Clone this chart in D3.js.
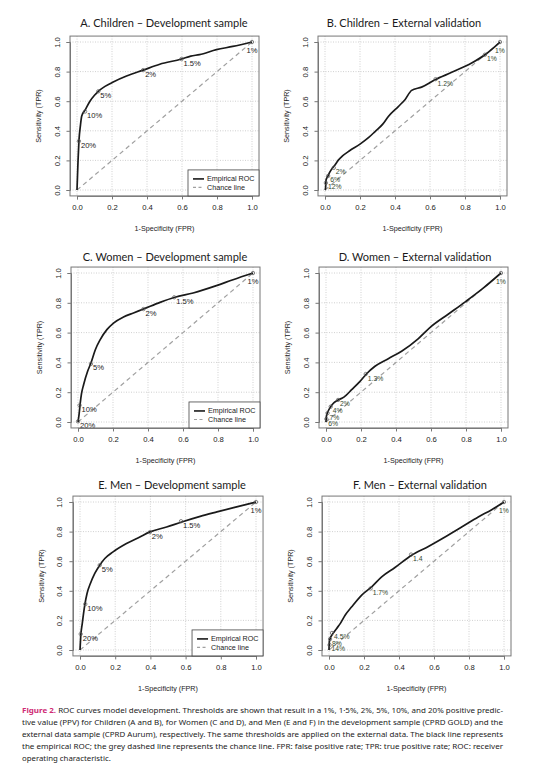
<!DOCTYPE html>
<html><head><meta charset="utf-8">
<script src="https://cdn.jsdelivr.net/npm/d3@7"></script>
<style>
html,body{margin:0;padding:0;background:#fff;}
svg{display:block;}
</style></head>
<body>
<svg id="chart" width="558" height="771"></svg>
<script>
// ---------------- DATA ----------------
const panelTitles = [
  "A. Children \u2013 Development sample",
  "B. Children \u2013 External validation",
  "C. Women \u2013 Development sample",
  "D. Women \u2013 External validation",
  "E. Men \u2013 Development sample",
  "F. Men \u2013 External validation"
];
const tickValues = [0, 0.2, 0.4, 0.6, 0.8, 1.0];
const tickLabels = ["0.0", "0.2", "0.4", "0.6", "0.8", "1.0"];
const xAxisTitle = "1-Specificity (FPR)";
const yAxisTitle = "Sensitivity (TPR)";
const legendLabels = ["Empirical ROC", "Chance line"];

// ROC curves [FPR, TPR]
const rocA = [[0,0],[0.003,0.1],[0.006,0.2],[0.011,0.33],[0.02,0.44],[0.027,0.5],[0.046,0.54],[0.074,0.6],[0.1,0.64],[0.122,0.667],[0.16,0.7],[0.207,0.73],[0.283,0.77],[0.378,0.81],[0.473,0.85],[0.597,0.885],[0.65,0.905],[0.70,0.915],[0.797,0.948],[0.89,0.97],[1,1]];
const rocB = [[0,0],[0.003,0.011],[0.006,0.068],[0.015,0.09],[0.029,0.124],[0.057,0.169],[0.075,0.2],[0.1,0.23],[0.14,0.265],[0.2,0.31],[0.25,0.355],[0.286,0.395],[0.33,0.445],[0.362,0.497],[0.419,0.564],[0.457,0.61],[0.495,0.673],[0.552,0.695],[0.629,0.745],[0.724,0.795],[0.838,0.858],[0.914,0.914],[1,1]];
const rocC = [[0,0],[0.006,0.049],[0.013,0.128],[0.02,0.19],[0.032,0.25],[0.055,0.34],[0.074,0.396],[0.099,0.485],[0.127,0.553],[0.165,0.62],[0.203,0.664],[0.26,0.705],[0.317,0.732],[0.374,0.758],[0.469,0.803],[0.554,0.837],[0.658,0.866],[0.791,0.915],[0.886,0.955],[1,1]];
const rocD = [[0,0],[0.002,0.036],[0.011,0.069],[0.027,0.103],[0.046,0.13],[0.069,0.148],[0.091,0.159],[0.116,0.181],[0.145,0.215],[0.193,0.271],[0.232,0.324],[0.28,0.374],[0.356,0.425],[0.432,0.475],[0.528,0.56],[0.6,0.64],[0.7,0.725],[0.8,0.81],[0.9,0.9],[1,1]];
const rocE = [[0,0],[0.004,0.09],[0.013,0.18],[0.027,0.303],[0.04,0.382],[0.059,0.449],[0.084,0.517],[0.112,0.573],[0.141,0.618],[0.188,0.663],[0.264,0.719],[0.34,0.764],[0.397,0.798],[0.492,0.831],[0.578,0.865],[0.683,0.903],[0.778,0.933],[0.873,0.962],[1,1]];
const rocF = [[0,0],[0.002,0.056],[0.007,0.079],[0.017,0.101],[0.029,0.122],[0.044,0.146],[0.065,0.18],[0.093,0.236],[0.13,0.292],[0.187,0.371],[0.244,0.427],[0.301,0.494],[0.377,0.557],[0.472,0.64],[0.568,0.70],[0.663,0.764],[0.758,0.831],[0.853,0.899],[0.93,0.948],[1,1]];

// Threshold points [FPR, TPR, label]
const thrA = [[1,1,"1%"],[0.597,0.885,"1.5%"],[0.378,0.81,"2%"],[0.122,0.667,"5%"],[0.046,0.53,"10%"],[0.011,0.33,"20%"]];
const thrB = [[1,1,"1%"],[0.914,0.914,"1%"],[0.632,0.749,"1.2%"],[0.05,0.15,"2%"],[0.018,0.095,"6%"],[0.005,0.048,"12%"]];
const thrC = [[1,1,"1%"],[0.55,0.837,"1.5%"],[0.374,0.758,"2%"],[0.074,0.39,"5%"],[0.009,0.112,"10%"],[0,0.004,"20%"]];
const thrD = [[1,1,"1%"],[0.227,0.322,"1.3%"],[0.069,0.148,"2%"],[0.027,0.103,"4%"],[0.009,0.06,"7%"],[0.002,0.02,"6%"]];
const thrE = [[1,1,"1%"],[0.574,0.87,"1.5%"],[0.397,0.796,"2%"],[0.112,0.573,"5%"],[0.03,0.31,"10%"],[0.004,0.108,"20%"]];
const thrF = [[1,1,"1%"],[0.469,0.645,"1.4"],[0.238,0.416,"1.7%"],[0.017,0.115,"4.5%"],[0.006,0.074,"8%"],[0.003,0.034,"14%"]];

const captionBold = "Figure 2.";
const captionLines = [
  " ROC curves model development. Thresholds are shown that result in a 1%, 1\u00b75%, 2%, 5%, 10%, and 20% positive predic-",
  "tive value (PPV) for Children (A and B), for Women (C and D), and Men (E and F) in the development sample (CPRD GOLD) and the",
  "external data sample (CPRD Aurum), respectively. The same thresholds are applied on the external data. The black line represents",
  "the empirical ROC; the grey dashed line represents the chance line. FPR: false positive rate; TPR: true positive rate; ROC: receiver",
  "operating characteristic."
];

// ---------------- LAYOUT ----------------
const layout = [
  {x0:77, x1:252, yb:190, yt:42, tx:164, ty:27, legend:true, ext:false},
  {x0:325, x1:500, yb:190, yt:42, tx:404, ty:27, legend:false, ext:true},
  {x0:78, x1:253, yb:422, yt:273, tx:165, ty:261, legend:true, ext:false},
  {x0:326, x1:501, yb:422, yt:273, tx:415, ty:261, legend:false, ext:true},
  {x0:80, x1:256, yb:650, yt:502, tx:172, ty:489, legend:true, ext:false},
  {x0:329, x1:504, yb:650, yt:502, tx:420, ty:489, legend:false, ext:true}
];
const rocs = [rocA, rocB, rocC, rocD, rocE, rocF];
const thrs = [thrA, thrB, thrC, thrD, thrE, thrF];

const svg = d3.select("#chart");
const axisFont = "'Liberation Sans', Arial, sans-serif";

layout.forEach((L, i) => {
  const padX = (L.x1 - L.x0) * 0.04, padY = (L.yb - L.yt) * 0.04;
  const x = d3.scaleLinear().domain([0, 1]).range([L.x0, L.x1]);
  const y = d3.scaleLinear().domain([0, 1]).range([L.yb, L.yt]);
  const bx0 = L.x0 - padX, bx1 = L.x1 + padX, by0 = L.yt - padY, by1 = L.yb + padY;
  const g = svg.append("g");

  // grid
  g.selectAll(".gx").data(tickValues).join("line")
    .attr("x1", d => x(d)).attr("x2", d => x(d)).attr("y1", by0).attr("y2", by1)
    .attr("stroke", "#c4c4c4").attr("stroke-width", 0.8).attr("stroke-dasharray", "1,1.5");
  g.selectAll(".gy").data(tickValues).join("line")
    .attr("y1", d => y(d)).attr("y2", d => y(d)).attr("x1", bx0).attr("x2", bx1)
    .attr("stroke", "#c4c4c4").attr("stroke-width", 0.8).attr("stroke-dasharray", "1,1.5");

  // chance line
  g.append("path")
    .attr("d", d3.line().x(d => x(d)).y(d => y(d))([0, 1]))
    .attr("stroke", "#a0a0a0").attr("stroke-width", 1.2).attr("stroke-dasharray", "4.5,3.5").attr("fill", "none");

  // ROC curve
  g.append("path")
    .attr("d", d3.line().x(d => x(d[0])).y(d => y(d[1])).curve(d3.curveMonotoneX)(rocs[i]))
    .attr("stroke", "#1a1a1a").attr("stroke-width", 1.7).attr("fill", "none").attr("stroke-linejoin", "round");

  // thresholds
  const labCol = L.ext ? "#34482e" : "#1a1a1a";
  thrs[i].forEach(t => {
    g.append("circle").attr("cx", x(t[0])).attr("cy", y(t[1])).attr("r", 1.7)
      .attr("fill", "none").attr("stroke", "#555").attr("stroke-width", 0.7);
    const atEnd = t[0] >= 0.999;
    g.append("text")
      .attr("x", atEnd ? x(t[0]) : x(t[0]) + 2)
      .attr("y", atEnd ? y(t[1]) + 10.5 : y(t[1]) + 6.5)
      .attr("text-anchor", atEnd ? "middle" : "start")
      .attr("font-family", axisFont).attr("font-size", L.ext ? 6.8 : 7.6).attr("fill", labCol)
      .text(t[2]);
  });

  // box
  g.append("rect").attr("x", bx0).attr("y", by0).attr("width", bx1 - bx0).attr("height", by1 - by0)
    .attr("fill", "none").attr("stroke", "#777").attr("stroke-width", 1);

  // x axis ticks + labels
  const xa = g.append("g").attr("transform", `translate(0,${by1})`)
    .call(d3.axisBottom(x).tickValues(tickValues).tickFormat((d, k) => tickLabels[k]).tickSize(3.5).tickPadding(5.5));
  xa.select(".domain").attr("stroke", "#777");
  xa.selectAll(".tick line").attr("stroke", "#777");
  xa.selectAll("text").attr("font-family", axisFont).attr("font-size", 7.7).attr("fill", "#222");

  // y axis
  const ya = g.append("g").attr("transform", `translate(${bx0},0)`)
    .call(d3.axisLeft(y).tickValues(tickValues).tickFormat((d, k) => tickLabels[k]).tickSize(3.5).tickPadding(5.5));
  ya.select(".domain").attr("stroke", "#777");
  ya.selectAll(".tick line").attr("stroke", "#777");
  ya.selectAll("text")
    .attr("font-family", axisFont).attr("font-size", 7.7).attr("fill", "#222")
    .attr("text-anchor", "middle").attr("dy", null).attr("x", null)
    .attr("transform", "translate(-10.5,0) rotate(-90)");

  // axis titles
  g.append("text").attr("x", (L.x0 + L.x1) / 2).attr("y", by1 + 35.5)
    .attr("text-anchor", "middle").attr("font-family", axisFont).attr("font-size", 7.2).attr("fill", "#222")
    .text(xAxisTitle);
  g.append("text")
    .attr("transform", `translate(${bx0 - 29},${(L.yt + L.yb) / 2}) rotate(-90)`)
    .attr("text-anchor", "middle").attr("font-family", axisFont).attr("font-size", 7.2).attr("fill", "#222")
    .text(yAxisTitle);

  // title
  g.append("text").attr("x", L.tx).attr("y", L.ty).attr("text-anchor", "middle")
    .attr("font-family", "Lato, 'Open Sans', sans-serif").attr("font-size", 11).attr("fill", "#1a1a1a")
    .text(panelTitles[i]);

  // legend
  if (L.legend) {
    const lw = 71, lh = 26;
    const lx = bx1 - lw, ly = by1 - lh;
    const lg = g.append("g");
    lg.append("rect").attr("x", lx).attr("y", ly).attr("width", lw).attr("height", lh)
      .attr("fill", "#fff").attr("stroke", "#444").attr("stroke-width", 0.8);
    [0, 1].forEach(k => {
      const yy = ly + 9 + k * 8.5;
      lg.append("line").attr("x1", lx + 5).attr("x2", lx + 16).attr("y1", yy).attr("y2", yy)
        .attr("stroke", k === 0 ? "#1a1a1a" : "#a0a0a0").attr("stroke-width", k === 0 ? 1.6 : 1.1)
        .attr("stroke-dasharray", k === 0 ? null : "3,2.5");
      lg.append("text").attr("x", lx + 19).attr("y", yy + 2.5)
        .attr("font-family", axisFont).attr("font-size", 7.2).attr("fill", "#1a1a1a")
        .text(legendLabels[k]);
    });
  }
});

// caption
const capX = 22, capW = 481;
captionLines.forEach((line, k) => {
  const t = svg.append("text").attr("x", capX).attr("y", 712.5 + k * 12.2)
    .attr("font-family", "'Noto Sans', 'Open Sans', sans-serif").attr("font-size", 7.8).attr("fill", "#222");
  if (k === 0) {
    t.append("tspan").attr("fill", "#cf2b74").attr("font-weight", "bold").text(captionBold);
  }
  t.append("tspan").text(line);
  if (k < captionLines.length - 1) {
    t.attr("textLength", capW).attr("lengthAdjust", "spacingAndGlyphs");
  }
});
</script>
</body></html>
